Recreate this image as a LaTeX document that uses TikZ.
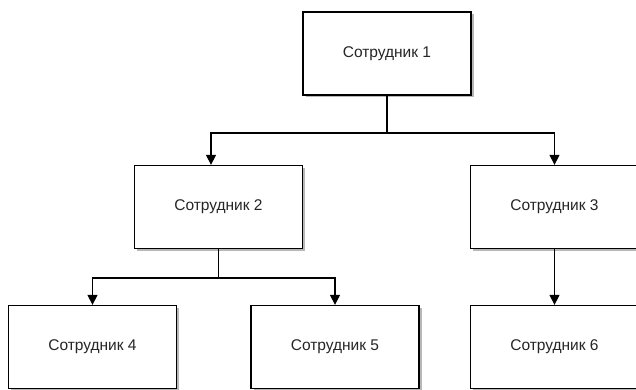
\documentclass[tikz,border=0pt]{standalone}
\usepackage{fontspec}
\setmainfont{Liberation Sans}
\usetikzlibrary{shadows,arrows.meta,calc}
\tikzset{
  ebox/.style={draw=black,fill=white,line width=1.3pt,
               minimum width=168pt,minimum height=83pt,
               font=\fontsize{15.5}{17}\selectfont,text=black!85,
               drop shadow={shadow xshift=2.5pt,shadow yshift=-2.5pt,fill=black!40,opacity=0.7}},
  arr/.style={-{Triangle[length=10pt,width=10pt]},black,line width=1.3pt},
  ln/.style={black,line width=1.3pt},
}
\begin{document}
\begin{tikzpicture}[x=1pt,y=-1pt]
  \useasboundingbox[fill=white] (0,0) rectangle (636,390);
  \node[ebox] (e1) at (387,53.5) {Сотрудник 1};
  \node[ebox] (e2) at (218.5,207) {Сотрудник 2};
  \node[ebox] (e3) at (554.5,207) {Сотрудник 3};
  \node[ebox] (e4) at (92.5,347) {Сотрудник 4};
  \node[ebox] (e5) at (335,347) {Сотрудник 5};
  \node[ebox] (e6) at (554.5,347) {Сотрудник 6};
  \coordinate (j1) at (387,133);
  \coordinate (j2) at (218.5,278);
  \draw[ln] (e1.south) -- (j1);
  \draw[arr] (j1) -| ([xshift=-7.5pt]e2.north);
  \draw[arr] (j1) -| (e3.north);
  \draw[ln] (e2.south) -- (j2);
  \draw[arr] (j2) -| (e4.north);
  \draw[arr] (j2) -| (e5.north);
  \draw[arr] (e3) -- (e6);
\end{tikzpicture}
\end{document}
